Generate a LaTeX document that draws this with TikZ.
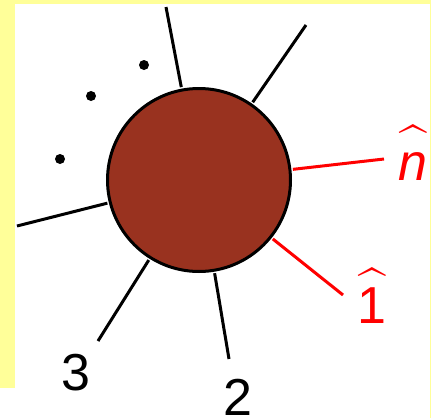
\documentclass[tikz,border=0pt]{standalone}
\usepackage{amsmath}
\usepackage{fontspec}
\setmainfont{Liberation Sans}
\usetikzlibrary{positioning}

\definecolor{blobred}{RGB}{153,50,31}
\definecolor{paleyellow}{RGB}{255,255,153}

\begin{document}
\begin{tikzpicture}[x=0.5pt, y=-0.5pt,
  leg/.style={line width=1.5pt, black, shorten <=0.75pt},
  redleg/.style={line width=1.5pt, red, shorten <=0.75pt},
  lab/.style={font=\fontsize{26}{30}\selectfont, anchor=base, inner sep=0pt},
  dot/.style={circle, fill=black, inner sep=0pt, minimum size=5pt}]

% --- Frame ---
\useasboundingbox (0,0) rectangle (439,418);
\fill[white] (0,0) rectangle (439,418);
\fill[paleyellow] (0,0) rectangle (15,388);
\fill[paleyellow] (0,0) rectangle (431,4);
\fill[paleyellow] (429.5,0) rectangle (431,418);

% --- Blob ---
\node[circle, draw, line width=1.5pt, fill=blobred, minimum size=91.5pt,
  inner sep=0pt] (blob) at (199,180) {};

% --- Leg ends ---
\coordinate (top) at (166,7);
\coordinate (upright) at (306,25);
\coordinate (left) at (17,226);
\coordinate (end3) at (98,341);
\coordinate (end2) at (229,359);
\coordinate (end1) at (343,295);
\coordinate (endn) at (384,159);

% --- Legs ---
\draw[leg] (blob) -- (top);
\draw[leg] (blob) -- (upright);
\draw[leg] (blob) -- (left);
\draw[leg] (blob) -- (end3);
\draw[leg] (blob) -- (end2);
\draw[redleg] (blob) -- (end1);
\draw[redleg] (blob) -- (endn);

% --- Dots ---
\node[dot] (dot1) at (60,159) {};
\node[dot] (dot2) at (91,96) {};
\node[dot] (dot3) at (144,65) {};

% --- Labels ---
\node[lab] (lab3) at (76,390) {3};
\node[lab] (lab2) at (238,415) {2};
\node[lab, red] (lab1) at (372,323) {$\widehat{\text{\rule{0pt}{20pt}1}}$};
\node[lab, red] (labn) at (413,180) {$\widehat{\text{\rule{0pt}{20pt}\itshape n}}$};

\end{tikzpicture}
\end{document}
